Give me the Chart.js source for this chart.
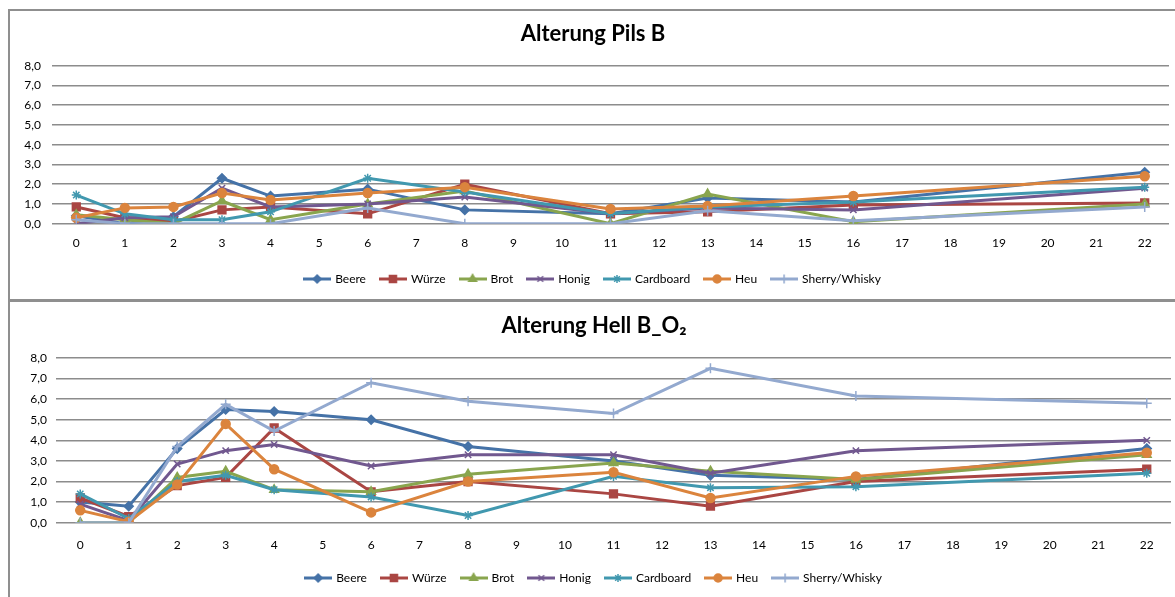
<!DOCTYPE html>
<html>
<head>
<meta charset="utf-8">
<script src="https://cdn.jsdelivr.net/npm/chart.js@4/dist/chart.umd.min.js"></script>
<style>
  body { margin: 0; background: #fff; overflow: hidden; }
  .panel { position: absolute; left: 8px; border: 2px solid #8f8f8f; border-right: none; background: #fff; }
  #panelPils { top: 9px; width: 1168px; height: 288px; }
  #panelHell { top: 300px; width: 1170px; height: 300px; }
  canvas { display: block; }
</style>
</head>
<body>
<div class="panel" id="panelPils"><canvas id="chartPils" width="1166" height="288"></canvas></div>
<div class="panel" id="panelHell"><canvas id="chartHell" width="1168" height="294"></canvas></div>
<script>
// Lagertage, an denen verkostet wurde
const days = [0, 1, 2, 3, 4, 6, 8, 11, 13, 16, 22];
const xTicks = ['0','1','2','3','4','5','6','7','8','9','10','11','12','13','14','15','16','17','18','19','20','21','22'];
const seriesNames = ['Beere', 'Würze', 'Brot', 'Honig', 'Cardboard', 'Heu', 'Sherry/Whisky'];

// Pils B
const pilsBeere     = [0.4, 0.0, 0.35, 2.3, 1.4, 1.75, 0.7, 0.5, 1.3, 1.1, 2.6];
const pilsWuerze    = [0.85, 0.3, 0.1, 0.7, 0.85, 0.5, 2.0, 0.5, 0.6, 0.95, 1.05];
const pilsBrot      = [0.45, 0.2, 0.0, 1.15, 0.2, 1.0, 1.65, 0.0, 1.5, 0.1, 1.0];
const pilsHonig     = [0.0, 0.3, 0.35, 1.8, 0.85, 1.0, 1.35, 0.5, 0.8, 0.7, 1.8];
const pilsCardboard = [1.45, 0.5, 0.2, 0.2, 0.6, 2.3, 1.6, 0.5, 0.85, 1.1, 1.85];
const pilsHeu       = [0.3, 0.8, 0.85, 1.55, 1.2, 1.55, 1.85, 0.75, 0.9, 1.4, 2.4];
const pilsSherry    = [0.2, 0.0, 0.0, 0.0, 0.0, 0.8, 0.0, 0.0, 0.65, 0.15, 0.85];

// Hell B_O2
const hellBeere     = [1.0, 0.8, 3.6, 5.5, 5.4, 5.0, 3.7, 3.0, 2.3, 2.1, 3.6];
const hellWuerze    = [1.2, 0.3, 1.8, 2.2, 4.6, 1.5, 2.0, 1.4, 0.8, 2.0, 2.6];
const hellBrot      = [0.0, 0.0, 2.2, 2.5, 1.6, 1.5, 2.35, 2.9, 2.5, 2.1, 3.3];
const hellHonig     = [0.9, 0.1, 2.85, 3.5, 3.8, 2.75, 3.3, 3.3, 2.4, 3.5, 4.0];
const hellCardboard = [1.4, 0.2, 2.0, 2.3, 1.6, 1.25, 0.35, 2.25, 1.7, 1.75, 2.4];
const hellHeu       = [0.6, 0.05, 1.85, 4.8, 2.6, 0.5, 2.0, 2.45, 1.2, 2.25, 3.4];
const hellSherry    = [0.0, 0.0, 3.7, 5.75, 4.45, 6.8, 5.9, 5.3, 7.5, 6.15, 5.8];

// Excel-Standardfarben und Markierungen
const colors = ['#4572A7', '#AA4643', '#89A54E', '#71588F', '#4198AF', '#DB843D', '#93A9CF'];
const markers = ['rectRot', 'rect', 'triangle', 'crossRot', 'star', 'circle', 'cross'];
const markerSize = [4.5, 5.5, 5, 4.5, 4.5, 4.5, 5];

const FONT = 'Lato, "Open Sans", sans-serif';

// kleines Bild fuer die Legende: Linie mit Markierung in der Mitte
function legendIcon(color, style, radius) {
    const c = document.createElement('canvas');
    c.width = 28; c.height = 12;
    const g = c.getContext('2d');
    g.strokeStyle = color;
    g.fillStyle = color;
    g.lineWidth = 3;
    g.beginPath(); g.moveTo(0, 6); g.lineTo(28, 6); g.stroke();
    g.lineWidth = 1.5;
    Chart.helpers.drawPoint(g, {pointStyle: style, radius: radius - 0.5, borderWidth: 1.5, rotation: 0}, 14, 6);
    return c;
}

function makeDatasets(series) {
    return series.map((vals, i) => ({
        label: seriesNames[i],
        data: days.map((d, k) => ({x: String(d), y: vals[k]})),
        borderColor: colors[i],
        backgroundColor: colors[i],
        pointBackgroundColor: colors[i],
        pointBorderColor: colors[i],
        pointStyle: markers[i],
        pointRadius: markerSize[i],
        pointBorderWidth: 1.5,
        borderWidth: 3,
        tension: 0,
        order: series.length - i   // spätere Reihen liegen oben
    }));
}

function makeChart(id, title, series, s) {
    const ctx = document.getElementById(id).getContext('2d');
    return new Chart(ctx, {
        type: 'line',
        data: { labels: xTicks, datasets: makeDatasets(series) },
        options: {
            responsive: false,
            animation: false,
            layout: { padding: { left: 0, right: 0, top: 0, bottom: s.padBottom } },
            plugins: {
                tooltip: { enabled: false },
                title: {
                    display: true,
                    text: title,
                    color: '#000',
                    font: { family: FONT, size: 22, weight: 'bold' },
                    padding: { top: s.titleTop, bottom: s.titleBottom }
                },
                legend: {
                    position: 'bottom',
                    labels: {
                        usePointStyle: true,
                        pointStyleWidth: 24,
                        padding: 15,
                        color: '#000',
                        font: { family: FONT, size: 12 },
                        generateLabels: chart => chart.data.datasets.map((ds, i) => ({
                            text: ds.label,
                            datasetIndex: i,
                            pointStyle: legendIcon(colors[i], markers[i], markerSize[i]),
                            fillStyle: colors[i],
                            strokeStyle: colors[i],
                            lineWidth: 0,
                            hidden: false,
                            fontColor: '#000'
                        }))
                    }
                }
            },
            scales: {
                x: {
                    type: 'category',
                    offset: true,
                    grid: { display: false, drawTicks: false },
                    border: { display: false },
                    ticks: { color: '#000', font: { family: FONT, size: 12 }, padding: s.xPad, maxRotation: 0, autoSkip: false },
                    afterFit: scale => { scale.height = s.xHeight; }
                },
                y: {
                    min: 0,
                    max: 8,
                    ticks: {
                        stepSize: 1,
                        color: '#000',
                        padding: s.yPad,
                        font: { family: FONT, size: 12 },
                        callback: v => v.toFixed(1).replace('.', ',')
                    },
                    grid: { color: '#8c8c8c', lineWidth: 1.6, drawTicks: false },
                    border: { display: false },
                    afterFit: scale => { scale.width = s.yWidth; }
                }
            }
        }
    });
}

makeChart('chartPils', 'Alterung Pils B',
    [pilsBeere, pilsWuerze, pilsBrot, pilsHonig, pilsCardboard, pilsHeu, pilsSherry],
    { padBottom: 4, titleTop: 9.8, titleBottom: 18.5, xPad: 12, xHeight: 34.3, yPad: 11, yWidth: 42 });

makeChart('chartHell', 'Alterung Hell B_O₂',
    [hellBeere, hellWuerze, hellBrot, hellHonig, hellCardboard, hellHeu, hellSherry],
    { padBottom: 2, titleTop: 10.8, titleBottom: 18.8, xPad: 14.8, xHeight: 34.3, yPad: 9, yWidth: 46 });
</script>
</body>
</html>
